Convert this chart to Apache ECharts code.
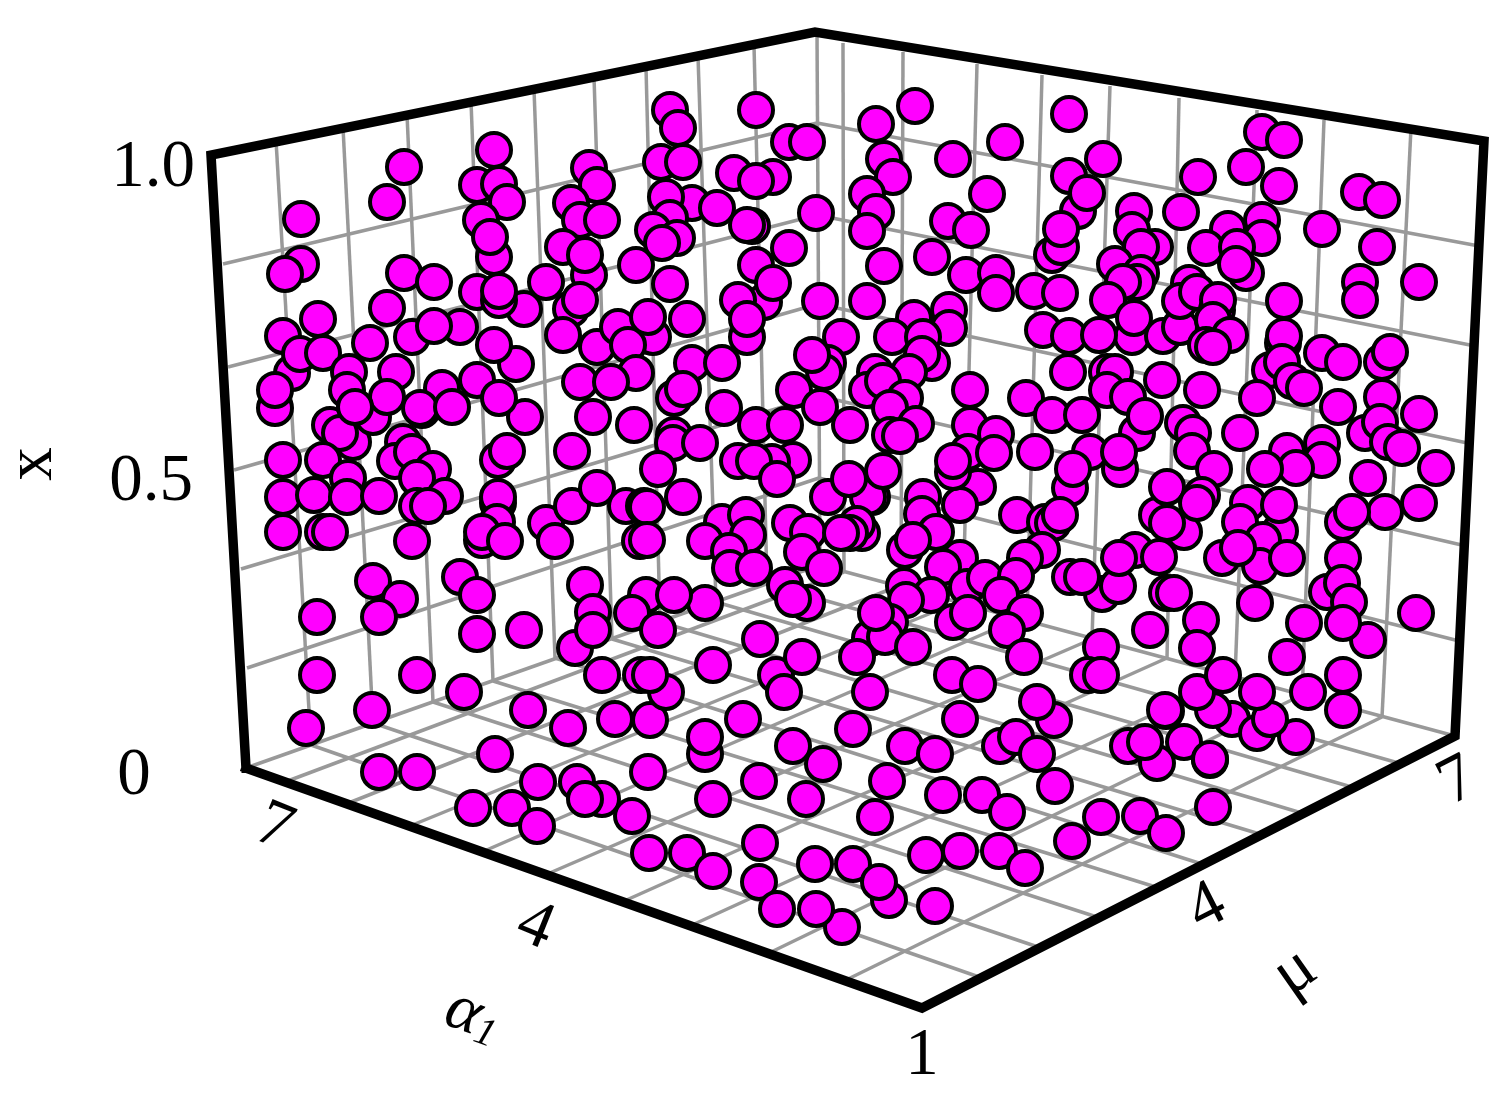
<!DOCTYPE html>
<html>
<head>
<meta charset="utf-8">
<style>html,body{margin:0;padding:0;background:#fff}#c{width:1511px;height:1097px}</style>
<script src="https://cdn.jsdelivr.net/npm/echarts@6/dist/echarts.min.js"></script>
</head>
<body>
<div id="c"></div>
<script>
// Marker positions (projected plane of the 3D box)
const pointsFrontFloor = [[379,772],[417,772],[495,754],[538,782],[577,782],[602,799],[585,799],[632,816],[473,808],[512,808],[537,826],[648,772],[649,853],[687,853],[713,871],[760,843],[759,882],[815,864],[853,864],[889,900],[879,882],[777,909],[842,927],[816,909],[935,906],[926,855],[960,851],[999,851],[1025,868],[705,754],[705,737],[713,799],[759,781],[793,746],[823,764],[806,799],[853,729],[905,746],[935,754],[960,719],[887,781],[875,817],[943,795],[982,795],[1007,812],[1055,786],[1101,817],[1072,841],[1140,816],[1166,833],[1213,807],[1054,720],[1037,702],[1000,746],[1016,737],[1037,754],[1128,746],[1157,763],[1145,742],[1184,742],[1210,760],[1166,711],[1232,719]];
const pointsLowLeft = [[373,581],[400,599],[379,617],[317,617],[460,577],[477,595],[477,634],[524,630],[317,675],[417,675],[372,710],[306,728],[464,692],[528,710],[568,728],[585,585],[593,612],[575,648],[593,630],[646,595],[632,613],[658,630],[602,675],[641,675],[615,719],[650,720],[666,692],[650,675],[705,603],[674,595],[760,639],[713,665],[776,675],[802,657],[784,692],[743,719]];
const pointsMidLeft = [[330,425],[353,442],[340,433],[373,417],[422,410],[525,417],[593,417],[634,425],[572,451],[498,460],[507,451],[283,460],[323,460],[403,442],[395,461],[412,452],[433,469],[417,478],[348,478],[283,497],[314,495],[347,497],[379,496],[445,496],[417,506],[428,506],[498,503],[498,497],[497,522],[482,540],[482,532],[505,541],[283,532],[323,532],[330,532],[412,541],[546,523],[555,541],[572,506],[597,488],[626,506],[644,506],[640,541]];
const pointsUpperLeft = [[301,219],[404,167],[387,202],[301,264],[285,274],[494,150],[477,185],[499,184],[507,202],[481,220],[494,257],[490,237],[589,168],[597,185],[571,203],[580,220],[602,220],[563,247],[589,275],[585,255],[636,265],[404,273],[434,282],[387,308],[477,292],[524,309],[499,300],[499,291],[546,282],[571,309],[580,300],[563,335],[318,319],[283,336],[292,373],[300,354],[323,353],[275,408],[275,390],[349,372],[347,390],[396,372],[387,397],[412,337],[460,327],[434,326],[370,343],[516,364],[494,345],[597,347],[618,327],[653,337],[628,345],[636,373],[580,382],[611,382],[442,388],[477,380],[499,398],[420,408],[452,407],[355,407]];
const pointsUpperMid = [[670,110],[678,128],[661,162],[683,162],[692,203],[666,197],[717,208],[670,218],[653,230],[677,238],[662,243],[670,284],[648,317],[687,319],[692,363],[722,363],[674,398],[683,389],[724,408],[756,110],[789,142],[807,142],[734,173],[773,177],[756,181],[752,226],[747,225],[816,213],[789,248],[756,265],[764,302],[773,283],[738,300],[747,337],[747,319],[820,301],[867,301],[841,337],[828,363],[824,372],[812,355],[794,390],[820,407],[756,425],[785,425],[850,425],[876,124],[915,106],[884,159],[893,177],[867,194],[876,212],[867,231],[884,266],[932,257],[953,159],[1005,142],[987,194],[948,221],[971,230],[966,275],[996,273],[996,293],[1034,291],[914,318],[949,310],[949,328],[892,337],[932,363],[923,337],[922,354],[909,372],[875,372],[867,390],[883,381],[905,398],[890,408],[916,424],[890,435],[900,436],[970,390],[970,425],[1026,398]];
const pointsCentre = [[674,435],[673,443],[700,443],[793,460],[738,461],[772,462],[754,461],[777,479],[658,469],[683,497],[647,507],[647,540],[722,522],[746,515],[748,535],[705,541],[729,551],[730,568],[754,568],[790,523],[808,532],[802,552],[824,568],[807,603],[785,585],[793,599],[872,497],[868,497],[828,497],[883,471],[849,479],[862,533],[857,524],[850,533],[841,533],[923,497],[922,514],[936,532],[905,550],[913,540],[960,558],[943,567],[978,487],[960,505],[996,434],[968,452],[994,453],[953,472],[953,461],[1035,452],[1017,515],[1045,522],[1053,523],[1042,550],[1025,558],[967,587],[985,578],[1016,576],[904,586],[931,595],[1001,595],[1025,613],[953,622],[968,613],[1007,630],[1024,657],[1070,488],[1070,577],[906,600],[890,622],[870,638],[885,637],[876,613],[857,657],[913,647],[870,692],[952,675],[978,684]];
const pointsUpperRight = [[1069,114],[1103,159],[1069,176],[1078,211],[1087,193],[1052,255],[1061,247],[1061,229],[1060,293],[1134,211],[1132,230],[1155,247],[1141,247],[1181,212],[1198,177],[1262,132],[1284,140],[1246,167],[1279,186],[1359,192],[1382,200],[1322,229],[1377,247],[1360,282],[1360,300],[1419,282],[1262,220],[1262,238],[1228,229],[1206,248],[1246,273],[1237,247],[1236,264],[1115,264],[1141,273],[1137,282],[1123,282],[1108,300],[1132,337],[1134,318],[1043,330],[1069,336],[1099,335],[1163,336],[1180,327],[1189,283],[1180,301],[1197,292],[1217,310],[1218,300],[1213,320],[1230,335],[1206,345],[1213,347],[1284,301],[1283,343],[1284,336],[1270,370],[1282,362],[1322,353],[1343,362],[1382,362],[1390,352],[1292,381],[1304,388],[1257,398],[1338,407],[1382,397],[1419,414],[1365,433],[1380,422],[1388,442],[1402,448],[1068,372],[1107,372],[1115,372],[1107,390],[1128,397],[1162,380],[1202,390],[1240,433],[1137,433],[1145,416],[1052,415],[1082,415],[1183,423],[1193,433],[1192,451],[1322,443],[1322,460],[1287,451]];
const pointsMidRight = [[1090,452],[1120,469],[1119,452],[1073,469],[1060,515],[1214,469],[1296,468],[1265,469],[1436,468],[1368,478],[1419,503],[1385,512],[1343,522],[1352,512],[1343,558],[1327,592],[1342,583],[1349,602],[1368,640],[1343,623],[1304,623],[1416,613],[1287,657],[1343,675],[1308,692],[1343,710],[1257,733],[1296,737],[1270,719],[1257,692],[1213,710],[1197,692],[1223,675],[1165,710],[1210,759],[1201,620],[1197,648],[1150,630],[1101,647],[1088,675],[1101,675],[1167,593],[1174,593],[1102,594],[1118,586],[1082,577],[1135,550],[1119,558],[1159,557],[1202,495],[1184,532],[1157,515],[1167,523],[1167,487],[1197,503],[1248,503],[1280,531],[1279,505],[1240,522],[1263,540],[1222,558],[1260,566],[1238,548],[1287,558],[1255,603]];

// Grid geometry: [from, to] pairs
const wallTopLeft = [[276,140],[343,127],[407,114],[471,101],[534,89],[594,77],[646,67],[698,56],[754,45],[817,33]];
const wallFootLeft = [[311,745],[373,723],[433,702],[493,681],[555,658],[612,639],[660,622],[716,602],[767,584],[820,565]];
const wallTopRight = [[843,43],[903,52],[977,64],[1042,75],[1110,86],[1179,98],[1257,110],[1324,120],[1411,128]];
const wallFootRight = [[844,572],[901,585],[963,600],[1027,615],[1092,639],[1167,658],[1235,677],[1302,695],[1382,717]];
const heightLeftEdge = [[223,264],[228,367],[234,470],[241,569],[247,668]];
const heightBackEdge = [[817,123],[817,215],[818,304],[819,396],[819,478]];
const heightRightEdge = [[1479,246],[1475,346],[1472,444],[1466,546],[1463,642]];
const floorFrontLeft = [[285,782],[346,804],[410,826],[482,852],[545,875],[622,902],[690,926],[767,954],[844,981]];
const floorFrontRight = [[982,978],[1041,948],[1100,918],[1159,888],[1205,865],[1263,835],[1305,814],[1355,788],[1402,764]];
const floorBackEdges = [[[246,768],[820,565]],[[820,565],[1455,736]]];
const frameOutline = [[246,768],[211,155],[815,32],[1484,141],[1455,736],[922,1008],[246,768]];

// Texts
const heightTicks = ['1.0','0.5','0'];
const heightTickAt = [[153,168],[151,482],[134,776]];
const alphaTicks = ['7','4'];
const alphaTickAt = [[274,828],[535,927]];
const muTicks = ['4','7'];
const muTickAt = [[1207,908],[1458,782]];
const cornerTick = '1';
const cornerTickAt = [922,1056];

const zip = (a,b) => a.map((p,i) => ({coords:[p,b[i]]}));
const gridLines = [].concat(
  zip(wallTopLeft, wallFootLeft),
  zip(wallTopRight, wallFootRight),
  zip(heightLeftEdge, heightBackEdge),
  zip(heightBackEdge, heightRightEdge),
  zip(floorFrontLeft, wallFootRight),
  zip(floorFrontRight, wallFootLeft),
  floorBackEdges.map(s => ({coords:s}))
);
const allPoints = [].concat(pointsFrontFloor, pointsLowLeft, pointsMidLeft, pointsUpperLeft, pointsUpperMid, pointsCentre, pointsUpperRight, pointsMidRight);

const serif = '"Liberation Serif","Times New Roman",serif';
const textSeries = (name, items) => ({
  type:'scatter', name, symbolSize:0, silent:true, z:6,
  itemStyle:{opacity:1},
  data: items.map(it => ({
    value: it.at,
    label:{show:true, position:'inside', formatter:it.text, rotate:it.rot||0, color:'#000', opacity:1, fontFamily:serif, fontSize:it.size||67, fontStyle:it.style||'normal', align:'center', verticalAlign:'middle', rich:it.rich}
  }))
});

const chart = echarts.init(document.getElementById('c'), null, {renderer:'canvas', width:1511, height:1097});
chart.setOption({
  animation:false,
  backgroundColor:'#fff',
  grid:{left:0,right:0,top:0,bottom:0,containLabel:false},
  xAxis:{type:'value',min:0,max:1511,show:false},
  yAxis:{type:'value',min:0,max:1097,inverse:true,show:false},
  series:[
    {type:'lines',coordinateSystem:'cartesian2d',silent:true,z:1,data:gridLines,lineStyle:{color:'#999999',width:3.5,opacity:1}},
    {type:'lines',coordinateSystem:'cartesian2d',polyline:true,silent:true,z:2,data:[{coords:frameOutline}],lineStyle:{color:'#000',width:9.5,opacity:1,join:'miter',cap:'square'}},
    {type:'scatter',name:'x',z:3,symbol:'circle',symbolSize:34,data:allPoints,itemStyle:{color:'#ff00ff',borderColor:'#000',borderWidth:4,opacity:1},emphasis:{disabled:true}},
    textSeries('height ticks', heightTicks.map((t,i)=>({text:t,at:heightTickAt[i]}))),
    textSeries('alpha ticks', alphaTicks.map((t,i)=>({text:t,at:alphaTickAt[i],rot:-22}))),
    textSeries('mu ticks', muTicks.map((t,i)=>({text:t,at:muTickAt[i],rot:27}))),
    textSeries('corner tick', [{text:cornerTick,at:cornerTickAt}]),
    textSeries('axis names', [
      {text:'x',at:[33,464],rot:90},
      {text:'μ',at:[1295,972],rot:35,size:68},
      {text:'{a|α}{b|1}',at:[473,1016],rot:-20,rich:{a:{fontFamily:serif,fontStyle:'italic',fontSize:66,color:'#000'},b:{fontFamily:serif,fontStyle:'italic',fontSize:40,color:'#000',verticalAlign:'bottom',padding:[26,0,0,0]}}}
    ])
  ]
});
</script>
</body>
</html>
